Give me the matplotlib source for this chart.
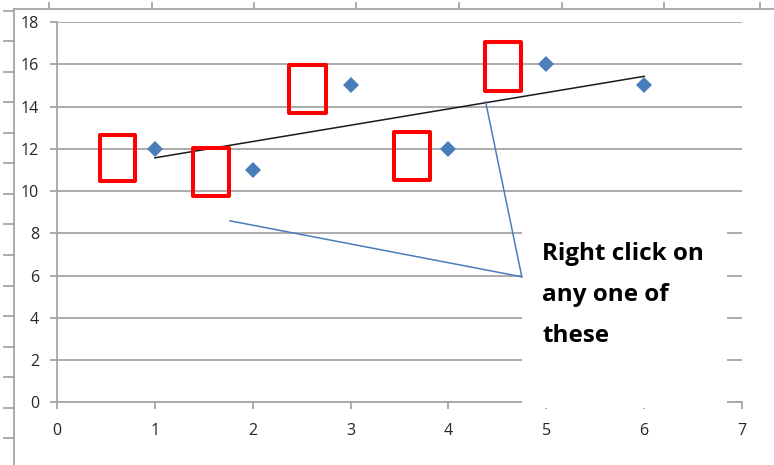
import numpy as np
import matplotlib.pyplot as plt
from matplotlib.patches import Rectangle
from matplotlib.lines import Line2D

# --- data ---
x_vals = [1, 2, 3, 4, 5, 6]
y_vals = [12, 11, 15, 12, 16, 15]
x_ticks = [0, 1, 2, 3, 4, 5, 6, 7]
y_ticks = [0, 2, 4, 6, 8, 10, 12, 14, 16, 18]

# red boxes drawn over the chart (x0, x1, y0, y1) in data units
red_boxes = [(0.44, 0.80, 10.49, 12.67),
             (1.39, 1.76, 9.78, 12.05),
             (2.37, 2.75, 13.71, 15.96),
             (3.44, 3.81, 10.53, 12.81),
             (4.37, 4.74, 14.75, 17.03)]
# callout lines: start points, all meet at one point
callout_starts = [(1.767, 8.59), (4.38, 14.23)]
callout_end = (4.75, 5.94)
note_lines = ["Right click on", "any one of", "these"]
note_baselines = [6.74, 4.80, 2.86]

W, H = 774, 465
fig = plt.figure(figsize=(W / 100, H / 100), dpi=100)
ax = fig.add_axes([57 / W, (H - 402.3) / H, 685 / W, 380.3 / H])

grid_col = '#a6a6a6'
ax.set_xlim(0, 7)
ax.set_ylim(0, 18)
ax.set_xticks(x_ticks)
ax.set_yticks(y_ticks)
ax.set_axisbelow(True)
ax.yaxis.grid(True, color=grid_col, lw=1.3)
for s in ['top', 'right']:
    ax.spines[s].set_visible(False)
for s in ['left', 'bottom']:
    ax.spines[s].set_color(grid_col)
    ax.spines[s].set_linewidth(1.3)
ax.tick_params(axis='both', direction='out', length=5, width=1.3, color=grid_col,
               labelsize=11.5, labelcolor='#262626')
ax.tick_params(axis='y', pad=8)
ax.tick_params(axis='x', pad=10)
for lab in ax.get_xticklabels() + ax.get_yticklabels():
    lab.set_family('Open Sans')

# scatter + linear trendline
ax.plot(x_vals, y_vals, 'D', color='#4a7ebb', markersize=8.5, markeredgewidth=0, zorder=4)
k, b = np.polyfit(x_vals, y_vals, 1)
xt = np.array([min(x_vals), max(x_vals)])
ax.plot(xt, k * xt + b, color='#1a1a1a', lw=1.1, zorder=4)

# white note box hiding part of the plot
ax.add_patch(Rectangle((4.75, -0.27), 2.1, 9.17, facecolor='white', edgecolor='none',
                       zorder=3, clip_on=False))
for txt, yb in zip(note_lines, note_baselines):
    ax.text(4.96, yb, txt, family='Open Sans', weight='bold', fontsize=17.5,
            ha='left', va='baseline', color='black', zorder=6)

# red boxes
for x0, x1, y0, y1 in red_boxes:
    ax.add_patch(Rectangle((x0, y0), x1 - x0, y1 - y0, facecolor='none', edgecolor='#ff0000',
                           lw=2.9, joinstyle='round', zorder=5, clip_on=False))

# callout lines
for sx, sy in callout_starts:
    ax.plot([sx, callout_end[0]], [sy, callout_end[1]], color='#4a7ebb', lw=1.1, zorder=5,
            clip_on=False)

# outer frame from the surrounding chart (cropped)
def px(x, y):
    return x / W, 1 - y / H

frame_kw = dict(color=grid_col, lw=1.3, transform=fig.transFigure)
fig.add_artist(Line2D(*zip(px(13.5, 9.5), px(13.5, 465)), **frame_kw))
fig.add_artist(Line2D(*zip(px(13.5, 9.5), px(774, 9.5)), **frame_kw))
for ty in np.arange(11, 465, 30.5):
    fig.add_artist(Line2D(*zip(px(4, ty), px(13.5, ty)), **frame_kw))
for tx in [49, 152, 254, 356, 459, 562, 664, 760]:
    fig.add_artist(Line2D(*zip(px(tx, 3.5), px(tx, 9.5)), **frame_kw))

fig.savefig('out.png', dpi=100)
